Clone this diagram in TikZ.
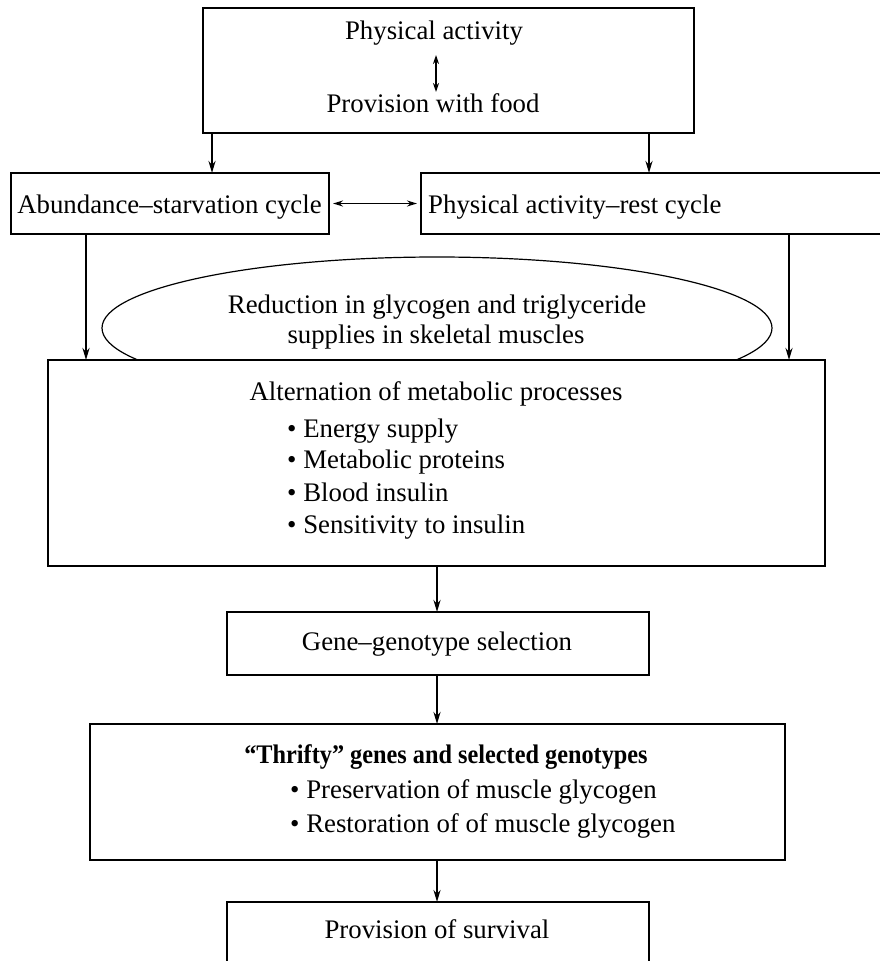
\documentclass[tikz,border=0pt]{standalone}
\usepackage{fontspec}
\setmainfont{Liberation Serif}
\usetikzlibrary{arrows.meta,shapes.geometric}
\begin{document}
\begin{tikzpicture}[x=1pt,y=-1pt,
  box/.style={draw,line width=2.7pt,inner sep=0pt,outer sep=0pt,fill=white},
  txt/.style={inner sep=0pt,anchor=base,font=\fontsize{26.8}{32}\selectfont},
  txtl/.style={txt,anchor=base west},
  arr/.style={line width=2pt,-{Stealth[length=12pt,width=7pt]}},
  darr/.style={line width=1.8pt,{Stealth[length=10pt,width=6pt]}-{Stealth[length=10pt,width=6pt]}},
]
\useasboundingbox (0,0) rectangle (880,961);
\clip (0,0) rectangle (880,961);

% boxes
\node[box,minimum width=491pt,minimum height=125pt] (top) at (448.5,70.5) {};
\node[box,minimum width=318pt,minimum height=61pt] (A) at (170,203.5) {};
\node[box,minimum width=479pt,minimum height=61pt] (B) at (660.5,203.5) {};
\node[ellipse,draw,line width=1.2pt,inner sep=0pt,minimum width=670pt,minimum height=142pt] (ell) at (437,328) {};
\node[box,minimum width=777pt,minimum height=206pt] (big) at (436.5,463) {};
\node[box,minimum width=422pt,minimum height=63pt] (gene) at (438,643.5) {};
\node[box,minimum width=695pt,minimum height=136pt] (thr) at (437.5,792) {};
\node[box,minimum width=422pt,minimum height=98pt] (surv) at (438,951) {};

% texts
\node[txt] (t1) at (434,39) {Physical activity};
\node[txt] (t2) at (433,112) {Provision with food};
\node[txt] (ta) at (169.5,213) {Abundance–starvation cycle};
\node[txtl] (tb) at (428,213) {Physical activity–rest cycle};
\node[txt] (te1) at (437,313) {Reduction in glycogen and triglyceride};
\node[txt] (te2) at (436,343) {supplies in skeletal muscles};
\node[txt] (tm) at (436,400) {Alternation of metabolic processes};
\node[txtl] (b1) at (287,437) {\textbullet\ Energy supply};
\node[txtl] (b2) at (287,468) {\textbullet\ Metabolic proteins};
\node[txtl] (b3) at (287,501) {\textbullet\ Blood insulin};
\node[txtl] (b4) at (287,533) {\textbullet\ Sensitivity to insulin};
\node[txt] (tg) at (437,650) {Gene–genotype selection};
\node[txt,font=\fontsize{26.8}{32}\selectfont\bfseries] (tt) at (446,763) {\scalebox{0.906}[1]{“Thrifty” genes and selected genotypes}};
\node[txtl] (c1) at (290,798) {\textbullet\ Preservation of muscle glycogen};
\node[txtl] (c2) at (290,832) {\textbullet\ Restoration of of muscle glycogen};
\node[txt] (ts) at (437,938) {Provision of survival};

% connectors
\coordinate (d1) at (436,55);
\coordinate (d2) at (436,92);
\draw[line width=2pt,{Stealth[length=9pt,width=6pt]}-{Stealth[length=9pt,width=6pt]}] (d1) -- (d2);

\coordinate (xl) at (212,0);
\coordinate (xr) at (649,0);
\coordinate (xa) at (86,0);
\coordinate (xb) at (789,0);
\coordinate (xm) at (437,0);

\draw[arr] (xl |- top.south) -- (xl |- A.north);
\draw[arr] (xr |- top.south) -- (xr |- B.north);
\draw[darr,shorten <=4pt,shorten >=4pt] (A.east) -- (B.west);
\draw[arr] (xa |- A.south) -- (xa |- big.north);
\draw[arr] (xb |- B.south) -- (xb |- big.north);
\draw[arr] (xm |- big.south) -- (xm |- gene.north);
\draw[arr] (xm |- gene.south) -- (xm |- thr.north);
\draw[arr] (xm |- thr.south) -- (xm |- surv.north);
\end{tikzpicture}
\end{document}
